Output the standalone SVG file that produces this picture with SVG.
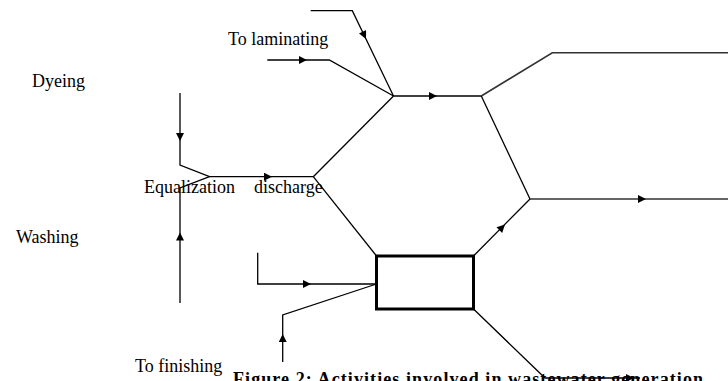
<svg xmlns="http://www.w3.org/2000/svg" width="728" height="381" viewBox="0 0 728 381">
<defs>
<style>
.ln{fill:none;stroke:#000;stroke-width:1.3;stroke-linejoin:miter}
.lg{fill:none;stroke:#333;stroke-width:1.6}
.ar{fill:none;stroke:none}
.box{fill:#fff;stroke:#000;stroke-width:3}
.t{font-family:"Liberation Serif","Times New Roman",serif;font-size:18px;fill:#000}
.cap{font-family:"Liberation Serif","Times New Roman",serif;font-size:18px;font-weight:bold;fill:#000}
</style>
<marker id="ah" viewBox="0 0 10 10" refX="10" refY="5" markerWidth="9" markerHeight="8" markerUnits="userSpaceOnUse" orient="auto">
<path d="M0,0 L10,5 L0,10 z" fill="#000"/>
</marker>
</defs>
<rect width="728" height="381" fill="#fff"/>

<g id="caption">
<text class="cap" x="233" y="385" textLength="470" lengthAdjust="spacing">Figure 2: Activities involved in wastewater generation</text>
</g>

<g id="labels">
<text class="t" x="228" y="45">To  laminating</text>
<text class="t" x="32" y="87">Dyeing</text>
<text class="t" x="16" y="243">Washing</text>
<text class="t" x="135" y="372">To finishing</text>
</g>

<g id="equalization">
<text class="t" x="144" y="193">Equalization</text>
<text class="t" x="254" y="193">discharge</text>
</g>

<g id="treatment-box">
<rect class="box" x="376.5" y="256" width="97" height="53"/>
</g>

<g id="connectors">
<!-- Dyeing input -->
<path class="ln" d="M180,93 L180,165 L209.5,176.7 L313.3,176.7"/>
<path class="ar" d="M180,120 L180,141" marker-end="url(#ah)"/>
<path class="ar" d="M240,176.7 L272,176.7" marker-end="url(#ah)"/>
<!-- Washing input -->
<path class="ln" d="M180,303 L180,188 L209.5,176.7"/>
<path class="ar" d="M180,260 L180,232.5" marker-end="url(#ah)"/>
<!-- Equalization to J1 and box -->
<path class="ln" d="M313.3,176.7 L393.5,96"/>
<path class="ln" d="M313.3,176.7 L376.5,256"/>
<!-- top input -->
<path class="ln" d="M310.7,10.7 L352.3,10.7 L393.5,96"/>
<path class="ar" d="M352.3,10.7 L366,39" marker-end="url(#ah)"/>
<!-- To laminating input -->
<path class="ln" d="M267.3,60 L329.3,60 L393.5,96"/>
<path class="ar" d="M280,60 L307,60" marker-end="url(#ah)"/>
<!-- J1 to J2 -->
<path class="ln" d="M393.5,96 L481.3,96"/>
<path class="ar" d="M410,96 L437,96" marker-end="url(#ah)"/>
<!-- J2 up-right -->
<path class="lg" d="M481.3,96 L552.3,52.7 L728,52.7"/>
<!-- J2 down to J3 -->
<path class="ln" d="M481.3,96 L530,199"/>
<path class="lg" d="M530,199 L728,199"/>
<path class="ar" d="M600,199 L646,199" marker-end="url(#ah)"/>
<!-- box to J3 -->
<path class="ln" d="M473.5,256 L530,199"/>
<path class="ar" d="M480,249.5 L505,224.5" marker-end="url(#ah)"/>
<!-- box left inputs -->
<path class="ln" d="M257.7,252.7 L257.7,284 L376.5,284"/>
<path class="ar" d="M280,284 L311,284" marker-end="url(#ah)"/>
<path class="ln" d="M282.7,362 L282.7,315 L376.5,284"/>
<path class="ar" d="M282.7,355 L282.7,334" marker-end="url(#ah)"/>
<!-- box bottom output -->
<path class="ln" d="M473.5,309 L545,378 L640,378"/>
<path class="ar" d="M600,378 L634,378" marker-end="url(#ah)"/>
</g>
</svg>
